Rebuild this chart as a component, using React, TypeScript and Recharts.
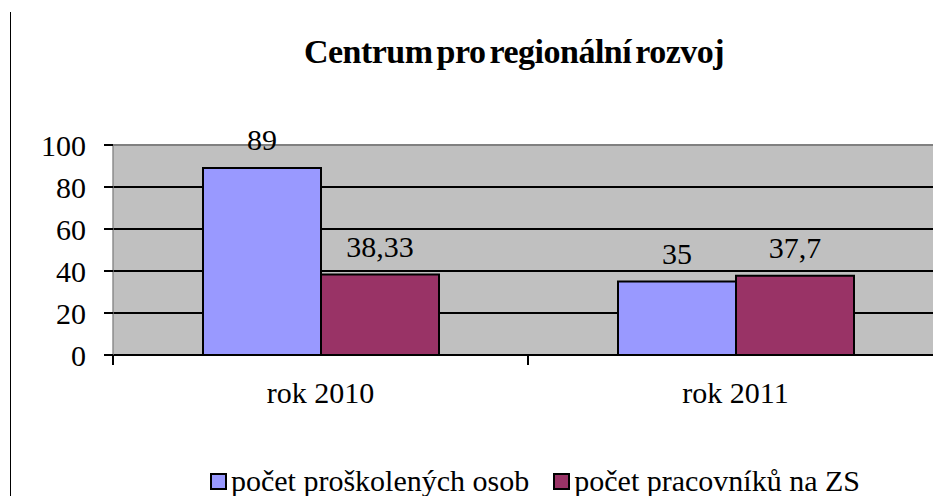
import React from 'react';
import { BarChart, Bar, XAxis, YAxis, CartesianGrid, Legend, LabelList } from 'recharts';

const years = ['rok 2010', 'rok 2011'];
const trained = [89, 35];
const staff = [38.33, 37.7];
const yTicks = [0, 20, 40, 60, 80, 100];
const seriesNames = ['počet proškolených osob', 'počet pracovníků na ZS'];

const data = years.map((year, i) => ({ year, trained: trained[i], staff: staff[i] }));

const FONT = '"Liberation Serif", "DejaVu Serif", "Times New Roman", Times, serif';
const X_TICK_GAP = 27;

const fmt = (v: any) => String(v).replace('.', ',');

function LegendBox({ payload }: any) {
  const items = [...(payload || [])].sort(
    (a: any, b: any) => seriesNames.indexOf(a.value) - seriesNames.indexOf(b.value)
  );
  return (
    <div style={{ display: 'flex', justifyContent: 'center', fontFamily: FONT, fontSize: 30, color: '#000' }}>
      {items.map((p: any) => (
        <div key={p.value} style={{ display: 'flex', alignItems: 'center', marginRight: 24 }}>
          <span
            style={{
              display: 'inline-block',
              width: 13,
              height: 13,
              background: p.color,
              border: '2px solid #000',
              marginRight: 4,
            }}
          />
          <span>{p.value}</span>
        </div>
      ))}
    </div>
  );
}

// grid line at 40 is heavier, the top one (100) is the grey plot border
function GridLine(props: any) {
  const { x1, x2, y1, y2, index } = props;
  const top = index === yTicks.length - 1;
  return (
    <line
      x1={x1}
      x2={x2}
      y1={y1}
      y2={y2}
      stroke={top ? '#808080' : '#000'}
      strokeWidth={top || index === 2 ? 2 : 1.3}
      shapeRendering="crispEdges"
    />
  );
}

// category label plus tick marks on the category boundaries (Excel style)
function YearTick(props: any) {
  const { x, y, payload } = props;
  const half = payload.offset || 0;
  const y0 = y - X_TICK_GAP;
  return (
    <g>
      <line x1={x - half} x2={x - half} y1={y0} y2={y0 + 10} stroke="#000" strokeWidth={1.3} shapeRendering="crispEdges" />
      <line x1={x + half} x2={x + half} y1={y0} y2={y0 + 10} stroke="#000" strokeWidth={1.3} shapeRendering="crispEdges" />
      <text x={x} y={y} dy="0.71em" textAnchor="middle" fill="#000" fontSize={30} fontFamily={FONT}>
        {payload.value}
      </text>
    </g>
  );
}

export default function App() {
  return (
    <div style={{ position: 'absolute', left: 0, top: 0, width: 933, height: 496, overflow: 'hidden', background: '#fff' }}>
      <div style={{ position: 'absolute', left: 10, top: 12, width: 1, height: 484, background: '#000' }} />
      <div
        style={{
          position: 'absolute',
          left: 0,
          width: 1028,
          top: 33,
          textAlign: 'center',
          fontFamily: FONT,
          fontWeight: 'bold',
          fontSize: 34,
          letterSpacing: -0.5,
          wordSpacing: -4,
          color: '#000',
        }}
      >
        Centrum pro regionální rozvoj
      </div>
      <BarChart
        width={943}
        height={496}
        data={data}
        margin={{ top: 145, right: 0, bottom: 47, left: 0 }}
        barGap={0}
        barSize={118}
        style={{ fontFamily: FONT }}
      >
        <CartesianGrid vertical={false} horizontal={GridLine} fill="#C0C0C0" fillOpacity={1} />
        <XAxis
          dataKey="year"
          height={60}
          tickLine={false}
          tickSize={0}
          axisLine={{ stroke: '#000', strokeWidth: 2 }}
          tickMargin={X_TICK_GAP}
          tick={<YearTick />}
        />
        <YAxis
          width={113}
          domain={[0, 100]}
          ticks={yTicks}
          interval={0}
          axisLine={{ stroke: '#808080', strokeWidth: 1.3 }}
          tickLine={{ stroke: '#000', strokeWidth: 1.3, shapeRendering: 'crispEdges' }}
          tickSize={9}
          tickMargin={18}
          tick={{ fill: '#000', fontSize: 30, fontFamily: FONT }}
        />
        <Bar dataKey="trained" name={seriesNames[0]} fill="#9999FF" stroke="#000" strokeWidth={2} isAnimationActive={false}>
          <LabelList dataKey="trained" position="top" offset={18} formatter={fmt} style={{ fill: '#000', fontSize: 30, fontFamily: FONT }} />
        </Bar>
        <Bar dataKey="staff" name={seriesNames[1]} fill="#993366" stroke="#000" strokeWidth={2} isAnimationActive={false}>
          <LabelList dataKey="staff" position="top" offset={18} formatter={fmt} style={{ fill: '#000', fontSize: 30, fontFamily: FONT }} />
        </Bar>
        <Legend
          content={<LegendBox />}
          wrapperStyle={{ position: 'absolute', top: 464, left: 0, width: 1094 }}
        />
      </BarChart>
    </div>
  );
}
